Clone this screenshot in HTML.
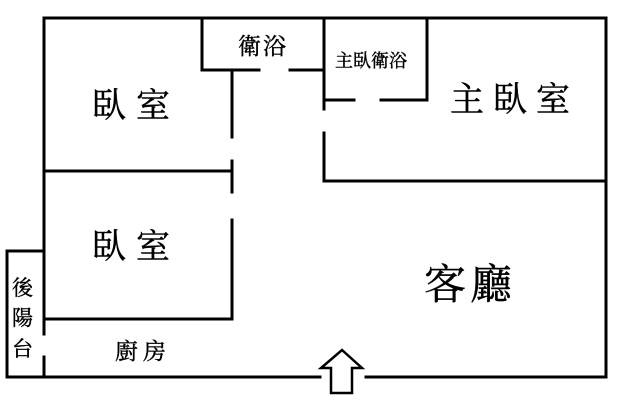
<!DOCTYPE html>
<html><head><meta charset="utf-8"><style>body{margin:0;background:#fff}svg{display:block}text{font-family:"Liberation Serif","Noto Serif CJK SC","Noto Sans CJK TC",serif;fill:#000;stroke:#000;stroke-width:0.4}</style></head>
<body>
<svg width="640" height="400" viewBox="0 0 640 400" xmlns="http://www.w3.org/2000/svg">
<g stroke="#000" stroke-width="3" fill="none" stroke-linecap="square">
<path d="M44 18 H606 V377 M366 377 H606"/>
<path d="M44 18 V334 M44 357 V377 M7 377 H320 M7 377 V251 H44"/>
<path d="M202 18 V70 H259 M290 70 H324"/>
<path d="M232 70 V137 M232 161 V192 M44 171 H232"/>
<path d="M232 220 V319 H44"/>
<path d="M324 18 V109 M324 133 V181 H606"/>
<path d="M427 18 V100 H381 M354 100 H324"/>
</g>
<path d="M342 350 L362 368 H352 V393 H331 V368 H321 Z" fill="#fff" stroke="#000" stroke-width="2.5"/>
<text x="92" y="117" font-size="34" letter-spacing="10">臥室</text>
<text x="92" y="258" font-size="34" letter-spacing="10">臥室</text>
<text x="238" y="54" font-size="23" letter-spacing="2">衛浴</text>
<text x="335" y="67" font-size="18">主臥衛浴</text>
<text x="450" y="111" font-size="34" letter-spacing="9">主臥室</text>
<text x="424" y="299" font-size="42" letter-spacing="4">客廳</text>
<text x="115" y="359" font-size="23" letter-spacing="5">廚房</text>
<text x="12" y="295" font-size="21">後</text>
<text x="12" y="325" font-size="21">陽</text>
<text x="12" y="356" font-size="21">台</text>
</svg>
</body></html>
